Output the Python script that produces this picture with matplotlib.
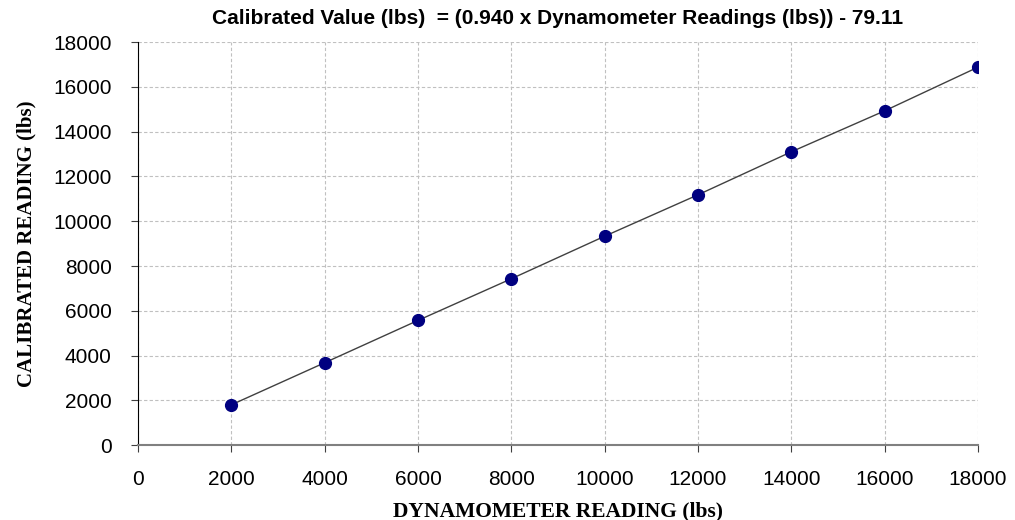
import matplotlib
matplotlib.use('Agg')
import matplotlib.pyplot as plt

# dynamometer readings vs calibrated values (lbs)
dyno = [2000, 4000, 6000, 8000, 10000, 12000, 14000, 16000, 18000]
calibrated = [1800, 3680, 5570, 7430, 9330, 11180, 13100, 14930, 16880]
ticks = list(range(0, 18001, 2000))

fig = plt.figure(figsize=(10.15, 5.2), dpi=100)
ax = fig.add_axes([0.136, 0.144, 0.8275, 0.775])

ax.plot(dyno, calibrated, color='#404040', lw=1, zorder=2)
ax.plot(dyno, calibrated, 'o', color='#000080', ms=8.5, zorder=3)

ax.set_xlim(0, 18000)
ax.set_ylim(0, 18000)
ax.set_xticks(ticks)
ax.set_yticks(ticks)
ax.grid(True, ls='--', color='#c0c0c0', lw=0.8, dashes=(3, 2))
ax.set_axisbelow(True)

for s in ['top', 'right']:
    ax.spines[s].set_visible(False)
ax.spines['left'].set_color('black')
ax.spines['bottom'].set_color('#808080')
ax.spines['bottom'].set_linewidth(1.5)

ax.tick_params(axis='both', labelsize=15, length=5, color='#404040')
ax.tick_params(axis='x', pad=13)
ax.tick_params(axis='y', pad=14)
for lab in ax.get_xticklabels() + ax.get_yticklabels():
    lab.set_family('Liberation Sans')

ax.set_xlabel('DYNAMOMETER READING (lbs)', family='Liberation Serif',
              fontweight='bold', fontsize=15.5, labelpad=9)
ax.set_ylabel('CALIBRATED READING (lbs)', family='Liberation Serif',
              fontweight='bold', fontsize=15, labelpad=12)
ax.set_title('Calibrated Value (lbs)  = (0.940 x Dynamometer Readings (lbs)) - 79.11',
             family='Liberation Sans', fontweight='bold', fontsize=15, pad=13)

fig.savefig('out.png', dpi=100)
